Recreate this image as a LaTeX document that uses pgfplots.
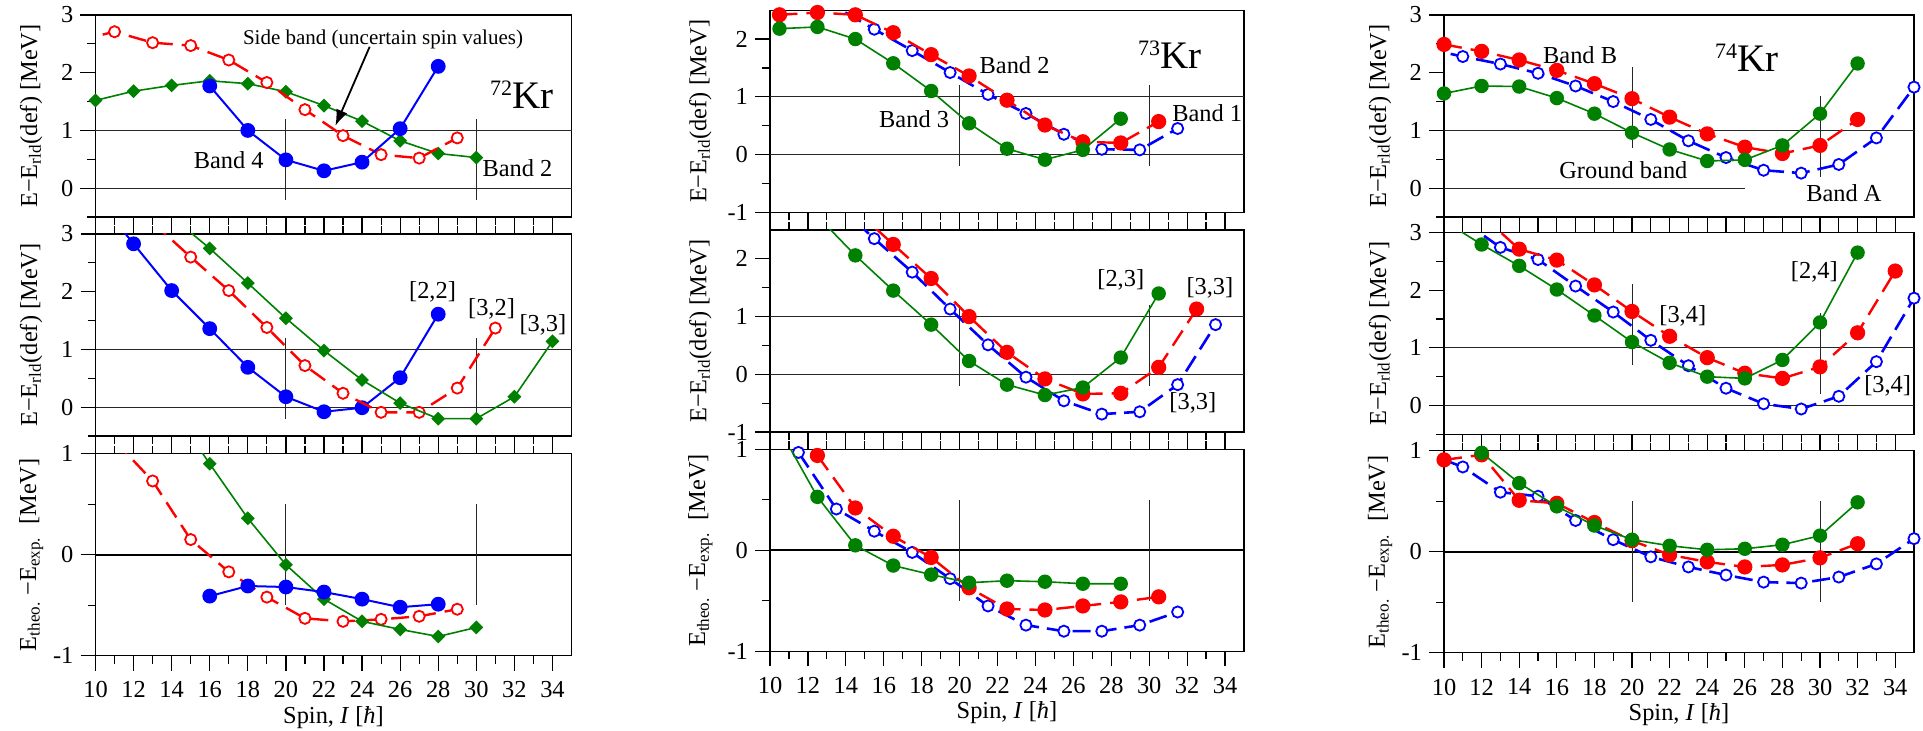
\documentclass[border=0pt]{standalone}
\usepackage{fontspec}
\setmainfont{Liberation Serif}
\usepackage{pgfplots}
\pgfplotsset{compat=1.18}
\usetikzlibrary{arrows.meta}
\newcommand{\fs}{\fontsize{12.2}{14}\selectfont}
\definecolor{cred}{RGB}{255,0,0}
\definecolor{cblue}{RGB}{0,0,255}
\definecolor{cgreen}{RGB}{0,128,0}
\newcommand{\kr}[1]{{\fontsize{11}{11}\selectfont\raisebox{6.5pt}{#1}}{\fontsize{19.5}{19.5}\selectfont Kr}}
\newcommand{\hl}[1]{\draw[black!85, line width=0.5pt] (axis cs:10,#1) -- (axis cs:35,#1);}
\newcommand{\hlt}[1]{\draw[black, line width=1.1pt] (axis cs:10,#1) -- (axis cs:35,#1);}
\newcommand{\vl}[3]{\draw[black!85, line width=0.5pt] (axis cs:#1,#2) -- (axis cs:#1,#3);}
\pgfplotsset{
  panel/.style={
    scale only axis, anchor=north west, height=101pt,
    xmin=10, xmax=35,
    xtick={10,12,...,34}, minor xtick={11,13,...,33},
    tick align=outside, major tick length=7.5pt, minor tick length=4pt,
    ytick pos=left,
    clip mode=individual,
    axis line style={line width=0.6pt},
    every tick/.append style={black, line width=0.6pt},
    tick label style={font=\fs},
    label style={font=\fs},
    /pgf/number format/assume math mode=true,
    xticklabel style={yshift=-2pt},
  },
  toprow/.style={xtick pos=bottom, xticklabels={}},
  midrow/.style={xtick pos=both, xticklabels={}},
  botrow/.style={xtick pos=both, xlabel={Spin, \textit{I} [\textit{ħ}]},
     xlabel style={at={(axis description cs:0.5,-0.305)}, anchor=center}},
  yA/.style={ymin=-0.5, ymax=3, ytick={0,1,2,3}, minor ytick={-0.5,0.5,1.5,2.5},
     ylabel={E−E\textsubscript{rld}(def) [MeV]}},
  yB/.style={ymin=-1, ymax=2.5, ytick={-1,0,1,2}, minor ytick={-0.5,0.5,1.5},
     ylabel={E−E\textsubscript{rld}(def) [MeV]}},
  yC/.style={ymin=-1, ymax=1, ytick={-1,0,1}, minor ytick={-0.5,0.5},
     ylabel={E\textsubscript{theo.} −E\textsubscript{exp.}\ \ [MeV]}},
  rO/.style={draw=cred, line width=1.2pt, dash pattern=on 9pt off 4.5pt, mark=*, mark size=2.8pt,
     mark options={solid, fill=white, draw=cred, line width=0.9pt}},
  rF/.style={draw=cred, line width=1.2pt, dash pattern=on 9pt off 4.5pt, mark=*, mark size=3.2pt,
     mark options={solid, fill=cred, draw=cred}},
  bO/.style={draw=cblue, line width=1.3pt, dash pattern=on 9pt off 4pt, mark=*, mark size=2.8pt,
     mark options={solid, fill=white, draw=cblue, line width=0.9pt}},
  bF/.style={draw=cblue, line width=1pt, solid, mark=*, mark size=3.2pt,
     mark options={fill=cblue, draw=cblue}},
  gD/.style={draw=cgreen, line width=0.8pt, solid, mark=square*, mark size=2.05pt,
     mark options={rotate=45, fill=cgreen, draw=cgreen}},
  gF/.style={draw=cgreen, line width=0.8pt, solid, mark=*, mark size=3.2pt,
     mark options={fill=cgreen, draw=cgreen}},
}
\begin{document}
\begin{tikzpicture}
\path[use as bounding box] (0,0) rectangle (961.5pt,-365.5pt);

%================ Column 1: 72Kr ================
\begin{axis}[panel, toprow, yA, at={(47.75pt,-7.5pt)}, width=238pt,
  ylabel style={at={(axis description cs:-0.135,0.5)}, anchor=center}]
\hl{0}\hl{1}
\vl{20}{1.2}{-0.2}\vl{30}{1.2}{-0.2}
\addplot[gD] coordinates {(10,1.52)(12,1.68)(14,1.78)(16,1.86)(18,1.81)(20,1.67)(22,1.43)(24,1.16)(26,0.82)(28,0.60)(30,0.53)};
\addplot[rO, mark=none] coordinates {(9,2.55)(11,2.71)(13,2.52)(15,2.47)(17,2.22)(19,1.83)(21,1.36)(23,0.91)(25,0.58)(27,0.52)(29,0.87)};
\addplot[rO, only marks] coordinates {(11,2.71)(13,2.52)(15,2.47)(17,2.22)(19,1.83)(21,1.36)(23,0.91)(25,0.58)(27,0.52)(29,0.87)};
\addplot[bF] coordinates {(16,1.77)(18,1.00)(20,0.49)(22,0.30)(24,0.45)(26,1.03)(28,2.11)};
\node[font=\fs] at (axis cs:17,0.48) {Band 4};
\node[font=\fs] at (axis cs:32.16,0.34) {Band 2};
\node[font=\fontsize{10.5}{12}\selectfont] at (axis cs:25.1,2.58) {Side band (uncertain spin values)};
\draw[-{Latex[length=8pt,width=6pt]}, line width=0.9pt] (axis cs:24.4,2.45) -- (axis cs:22.6,1.08);
\node[anchor=base west, inner sep=0pt] at (axis cs:30.7,1.38) {\kr{72}};
\end{axis}

\begin{axis}[panel, midrow, yA, at={(47.75pt,-117pt)}, width=238pt,
  ylabel style={at={(axis description cs:-0.135,0.5)}, anchor=center}]
\hl{0}\hl{1}
\vl{20}{1.2}{-0.2}\vl{30}{1.2}{-0.2}
\addplot[bF, mark=none] coordinates {(10,3.65)(12,2.83)(14,2.02)(16,1.36)(18,0.69)(20,0.18)(22,-0.08)(24,-0.01)(26,0.51)(28,1.61)};
\addplot[bF, only marks] coordinates {(12,2.83)(14,2.02)(16,1.36)(18,0.69)(20,0.18)(22,-0.08)(24,-0.01)(26,0.51)(28,1.61)};
\addplot[rO, mark=none] coordinates {(13,3.2)(15,2.60)(17,2.02)(19,1.38)(21,0.72)(23,0.24)(25,-0.09)(27,-0.09)(29,0.33)(31,1.37)};
\addplot[rO, only marks] coordinates {(15,2.60)(17,2.02)(19,1.38)(21,0.72)(23,0.24)(25,-0.09)(27,-0.09)(29,0.33)(31,1.37)};
\addplot[gD, mark=none] coordinates {(14,3.3)(16,2.75)(18,2.15)(20,1.54)(22,0.98)(24,0.47)(26,0.07)(28,-0.20)(30,-0.20)(32,0.18)(34,1.14)};
\addplot[gD, only marks] coordinates {(16,2.75)(18,2.15)(20,1.54)(22,0.98)(24,0.47)(26,0.07)(28,-0.20)(30,-0.20)(32,0.18)(34,1.14)};
\node[font=\fs] at (axis cs:27.7,2.0) {[2,2]};
\node[font=\fs] at (axis cs:30.8,1.71) {[3,2]};
\node[font=\fs] at (axis cs:33.5,1.43) {[3,3]};
\end{axis}

\begin{axis}[panel, botrow, yC, at={(47.75pt,-226.85pt)}, width=238pt,
  ylabel style={at={(axis description cs:-0.135,0.5)}, anchor=center}]
\hlt{0}
\vl{20}{0.5}{-0.5}\vl{30}{0.5}{-0.5}
\addplot[rO, mark=none] coordinates {(11,1.13)(13,0.73)(15,0.15)(17,-0.17)(19,-0.42)(21,-0.63)(23,-0.66)(25,-0.64)(27,-0.61)(29,-0.54)};
\addplot[rO, only marks] coordinates {(13,0.73)(15,0.15)(17,-0.17)(19,-0.42)(21,-0.63)(23,-0.66)(25,-0.64)(27,-0.61)(29,-0.54)};
\addplot[gD, mark=none] coordinates {(14,1.45)(16,0.90)(18,0.36)(20,-0.10)(22,-0.44)(24,-0.66)(26,-0.74)(28,-0.81)(30,-0.72)};
\addplot[gD, only marks] coordinates {(16,0.90)(18,0.36)(20,-0.10)(22,-0.44)(24,-0.66)(26,-0.74)(28,-0.81)(30,-0.72)};
\addplot[bF] coordinates {(16,-0.41)(18,-0.31)(20,-0.32)(22,-0.37)(24,-0.44)(26,-0.52)(28,-0.49)};
\end{axis}

%================ Column 2: 73Kr ================
\begin{axis}[panel, toprow, yB, at={(385pt,-5.1pt)}, width=237pt,
  ylabel style={at={(axis description cs:-0.147,0.5)}, anchor=center}]
\hl{0}\hl{1}
\vl{20}{1.2}{-0.2}\vl{30}{1.2}{-0.2}
\addplot[bO, mark=none] coordinates {(11.5,2.85)(13.5,2.55)(15.5,2.17)(17.5,1.80)(19.5,1.42)(21.5,1.04)(23.5,0.71)(25.5,0.35)(27.5,0.09)(29.5,0.08)(31.5,0.45)};
\addplot[bO, only marks] coordinates {(15.5,2.17)(17.5,1.80)(19.5,1.42)(21.5,1.04)(23.5,0.71)(25.5,0.35)(27.5,0.09)(29.5,0.08)(31.5,0.45)};
\addplot[rF] coordinates {(10.5,2.42)(12.5,2.46)(14.5,2.42)(16.5,2.11)(18.5,1.73)(20.5,1.36)(22.5,0.94)(24.5,0.51)(26.5,0.22)(28.5,0.20)(30.5,0.57)};
\addplot[gF] coordinates {(10.5,2.18)(12.5,2.21)(14.5,2.00)(16.5,1.58)(18.5,1.10)(20.5,0.54)(22.5,0.10)(24.5,-0.09)(26.5,0.08)(28.5,0.62)};
\node[font=\fs] at (axis cs:22.9,1.55) {Band 2};
\node[font=\fs] at (axis cs:17.6,0.62) {Band 3};
\node[font=\fs, anchor=west, inner sep=0pt] at (axis cs:31.2,0.71) {Band 1};
\node[anchor=base west, inner sep=0pt] at (axis cs:29.4,1.49) {\kr{73}};
\end{axis}

\begin{axis}[panel, midrow, yB, at={(385pt,-115pt)}, width=237pt,
  ylabel style={at={(axis description cs:-0.147,0.5)}, anchor=center}]
\hl{0}\hl{1}
\vl{20}{1.2}{-0.2}\vl{30}{1.2}{-0.2}
\addplot[bO, mark=none] coordinates {(13.5,2.95)(15.5,2.35)(17.5,1.77)(19.5,1.13)(21.5,0.51)(23.5,-0.05)(25.5,-0.46)(27.5,-0.69)(29.5,-0.65)(31.5,-0.18)(33.5,0.86)};
\addplot[bO, only marks] coordinates {(15.5,2.35)(17.5,1.77)(19.5,1.13)(21.5,0.51)(23.5,-0.05)(25.5,-0.46)(27.5,-0.69)(29.5,-0.65)(31.5,-0.18)(33.5,0.86)};
\addplot[rF, mark=none] coordinates {(14.5,2.85)(16.5,2.25)(18.5,1.66)(20.5,1.00)(22.5,0.38)(24.5,-0.08)(26.5,-0.34)(28.5,-0.33)(30.5,0.12)(32.5,1.13)};
\addplot[rF, only marks] coordinates {(16.5,2.25)(18.5,1.66)(20.5,1.00)(22.5,0.38)(24.5,-0.08)(26.5,-0.34)(28.5,-0.33)(30.5,0.12)(32.5,1.13)};
\addplot[gF, mark=none] coordinates {(12.5,2.74)(14.5,2.06)(16.5,1.45)(18.5,0.86)(20.5,0.23)(22.5,-0.18)(24.5,-0.36)(26.5,-0.23)(28.5,0.29)(30.5,1.40)};
\addplot[gF, only marks] coordinates {(14.5,2.06)(16.5,1.45)(18.5,0.86)(20.5,0.23)(22.5,-0.18)(24.5,-0.36)(26.5,-0.23)(28.5,0.29)(30.5,1.40)};
\node[font=\fs] at (axis cs:28.5,1.64) {[2,3]};
\node[font=\fs] at (axis cs:33.2,1.5) {[3,3]};
\node[font=\fs] at (axis cs:32.3,-0.50) {[3,3]};
\end{axis}

\begin{axis}[panel, botrow, yC, at={(385pt,-224.7pt)}, width=237pt,
  ylabel style={at={(axis description cs:-0.147,0.5)}, anchor=center}]
\hlt{0}
\vl{20}{0.5}{-0.5}\vl{30}{0.5}{-0.5}
\addplot[bO] coordinates {(11.5,0.97)(13.5,0.41)(15.5,0.19)(17.5,-0.02)(19.5,-0.28)(21.5,-0.55)(23.5,-0.74)(25.5,-0.80)(27.5,-0.80)(29.5,-0.74)(31.5,-0.61)};
\addplot[rF] coordinates {(12.5,0.94)(14.5,0.42)(16.5,0.14)(18.5,-0.07)(20.5,-0.37)(22.5,-0.58)(24.5,-0.59)(26.5,-0.55)(28.5,-0.51)(30.5,-0.46)};
\addplot[gF, mark=none] coordinates {(10.5,1.2)(12.5,0.53)(14.5,0.05)(16.5,-0.15)(18.5,-0.24)(20.5,-0.32)(22.5,-0.30)(24.5,-0.31)(26.5,-0.33)(28.5,-0.33)};
\addplot[gF, only marks] coordinates {(12.5,0.53)(14.5,0.05)(16.5,-0.15)(18.5,-0.24)(20.5,-0.32)(22.5,-0.30)(24.5,-0.31)(26.5,-0.33)(28.5,-0.33)};
\end{axis}

%================ Column 3: 74Kr ================
\begin{axis}[panel, toprow, yA, at={(722pt,-7.5pt)}, width=235pt,
  ylabel style={at={(axis description cs:-0.136,0.5)}, anchor=center}]
\draw[black!85, line width=0.5pt] (axis cs:10,0) -- (axis cs:26,0);
\hl{1}
\vl{20}{2.1}{0.7}\vl{30}{1.6}{0.2}
\addplot[bO, mark=none] coordinates {(9,2.42)(11,2.28)(13,2.15)(15,1.99)(17,1.77)(19,1.50)(21,1.19)(23,0.82)(25,0.53)(27,0.31)(29,0.26)(31,0.41)(33,0.87)(35,1.75)};
\addplot[bO, only marks] coordinates {(11,2.28)(13,2.15)(15,1.99)(17,1.77)(19,1.50)(21,1.19)(23,0.82)(25,0.53)(27,0.31)(29,0.26)(31,0.41)(33,0.87)(35,1.75)};
\addplot[rF] coordinates {(10,2.49)(12,2.37)(14,2.22)(16,2.04)(18,1.81)(20,1.55)(22,1.23)(24,0.94)(26,0.71)(28,0.60)(30,0.74)(32,1.19)};
\addplot[gF] coordinates {(10,1.64)(12,1.77)(14,1.76)(16,1.56)(18,1.29)(20,0.96)(22,0.67)(24,0.47)(26,0.49)(28,0.74)(30,1.29)(32,2.16)};
\node[font=\fs] at (axis cs:17.24,2.30) {Band B};
\node[font=\fs] at (axis cs:19.54,0.32) {Ground band};
\node[font=\fs] at (axis cs:31.27,-0.08) {Band A};
\node[anchor=base west, inner sep=0pt] at (axis cs:24.4,2.02) {\kr{74}};
\end{axis}

\begin{axis}[panel, midrow, yA, at={(722pt,-116.2pt)}, width=235pt,
  ylabel style={at={(axis description cs:-0.136,0.5)}, anchor=center}]
\hl{0}\hl{1}
\vl{20}{2.1}{0.7}\vl{30}{1.6}{0.2}
\addplot[bO, mark=none] coordinates {(11,3.2)(13,2.74)(15,2.53)(17,2.07)(19,1.62)(21,1.13)(23,0.69)(25,0.30)(27,0.03)(29,-0.06)(31,0.16)(33,0.76)(35,1.86)};
\addplot[bO, only marks] coordinates {(13,2.74)(15,2.53)(17,2.07)(19,1.62)(21,1.13)(23,0.69)(25,0.30)(27,0.03)(29,-0.06)(31,0.16)(33,0.76)(35,1.86)};
\addplot[rF, mark=none] coordinates {(12,3.3)(14,2.71)(16,2.52)(18,2.09)(20,1.63)(22,1.20)(24,0.83)(26,0.56)(28,0.47)(30,0.67)(32,1.26)(34,2.33)};
\addplot[rF, only marks] coordinates {(14,2.71)(16,2.52)(18,2.09)(20,1.63)(22,1.20)(24,0.83)(26,0.56)(28,0.47)(30,0.67)(32,1.26)(34,2.33)};
\addplot[gF, mark=none] coordinates {(10,3.2)(12,2.79)(14,2.42)(16,2.01)(18,1.56)(20,1.10)(22,0.74)(24,0.50)(26,0.47)(28,0.79)(30,1.44)(32,2.65)};
\addplot[gF, only marks] coordinates {(12,2.79)(14,2.42)(16,2.01)(18,1.56)(20,1.10)(22,0.74)(24,0.50)(26,0.47)(28,0.79)(30,1.44)(32,2.65)};
\node[font=\fs] at (axis cs:22.7,1.56) {[3,4]};
\node[font=\fs] at (axis cs:29.7,2.31) {[2,4]};
\node[font=\fs] at (axis cs:33.6,0.34) {[3,4]};
\end{axis}

\begin{axis}[panel, botrow, yC, at={(722pt,-225.4pt)}, width=235pt,
  ylabel style={at={(axis description cs:-0.136,0.5)}, anchor=center}]
\hlt{0}
\vl{20}{0.5}{-0.5}\vl{30}{0.5}{-0.5}
\addplot[bO, mark=none] coordinates {(9,0.98)(11,0.84)(13,0.59)(15,0.55)(17,0.31)(19,0.12)(21,-0.05)(23,-0.15)(25,-0.23)(27,-0.30)(29,-0.31)(31,-0.25)(33,-0.12)(35,0.13)};
\addplot[bO, only marks] coordinates {(11,0.84)(13,0.59)(15,0.55)(17,0.31)(19,0.12)(21,-0.05)(23,-0.15)(25,-0.23)(27,-0.30)(29,-0.31)(31,-0.25)(33,-0.12)(35,0.13)};
\addplot[rF] coordinates {(10,0.91)(12,0.96)(14,0.51)(16,0.48)(18,0.29)(20,0.11)(22,-0.03)(24,-0.10)(26,-0.15)(28,-0.13)(30,-0.06)(32,0.08)};
\addplot[gF] coordinates {(12,0.98)(14,0.68)(16,0.45)(18,0.26)(20,0.12)(22,0.06)(24,0.02)(26,0.03)(28,0.07)(30,0.16)(32,0.49)};
\end{axis}
\end{tikzpicture}
\end{document}
